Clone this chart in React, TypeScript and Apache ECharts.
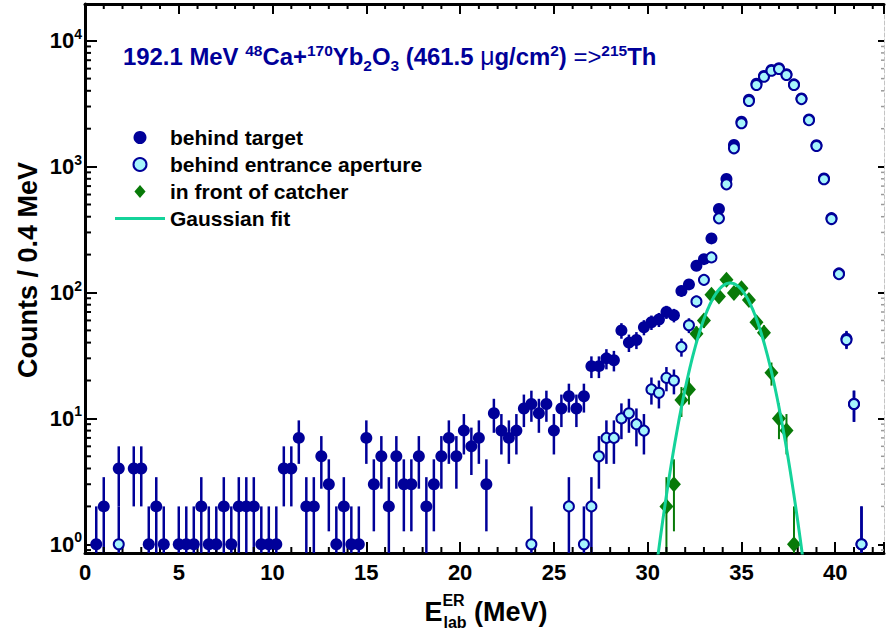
import React, { useEffect, useRef } from 'react';
import * as echarts from 'echarts';

// ---------------- data ----------------
// Bin centres in MeV (0.4 MeV bins) and counts per bin
const targetEnergy = [
  0.6, 1.0, 1.8, 2.6, 3.0, 3.4, 3.8, 4.2,
  5.0, 5.4, 5.8, 6.2, 6.6, 7.0, 7.4, 7.8, 8.2, 8.6, 9.0, 9.4, 9.8, 10.2,
  10.6, 11.0, 11.4, 11.8, 12.2, 12.6, 13.0, 13.4, 13.8, 14.2, 14.6,
  15.0, 15.4, 15.8, 16.2, 16.6, 17.0, 17.4, 17.8, 18.2, 18.6, 19.0, 19.4, 19.8,
  20.2, 20.6, 21.0, 21.4, 21.8, 22.2, 22.6, 23.0, 23.4, 23.8, 24.2, 24.6, 25.0, 25.4, 25.8, 26.2, 26.6,
  27.0, 27.4, 27.8, 28.2, 28.6, 29.0, 29.4, 29.8, 30.2, 30.6, 31.0, 31.4, 31.8, 32.2, 32.6, 33.0, 33.4,
  33.8, 34.2, 34.6, 35.0, 35.4, 35.8, 36.2, 36.6, 37.0, 37.4, 37.8, 38.2, 38.6, 39.0, 39.4, 39.8, 40.2,
  40.6, 41.0, 41.4,
];
const targetCounts = [
  1, 2, 4, 4, 4, 1, 2, 1,
  1, 1, 1, 2, 1, 1, 2, 1, 2, 2, 2, 1, 1, 1,
  4, 4, 7, 2, 2, 5, 3, 1, 2, 1, 1,
  7, 3, 5, 2, 5, 3, 3, 5, 2, 3, 5, 7, 5,
  8, 6, 7, 3, 11, 8, 7, 8, 12, 13, 11, 13, 8, 12, 15, 12, 15,
  26, 26, 30, 29, 50, 40, 42, 53, 58, 61, 70, 66, 103, 116, 163, 184, 269,
  460, 797, 1483, 2274, 3400, 4550, 5250, 5850, 6050, 5420, 4500, 3480, 2370, 1480, 805, 390, 142,
  43, 13, 1,
];

const apertureEnergy = [
  1.8, 23.8, 25.8, 26.6, 27.0, 27.4, 27.8, 28.2, 28.6, 29.0, 29.4, 29.8, 30.2, 30.6, 31.0, 31.4,
  31.8, 32.2, 32.6, 33.0, 33.4, 33.8, 34.2, 34.6, 35.0, 35.4, 35.8, 36.2, 36.6, 37.0, 37.4, 37.8,
  38.2, 38.6, 39.0, 39.4, 39.8, 40.2, 40.6, 41.0, 41.4,
];
const apertureCounts = [
  1, 1, 2, 1, 2, 5, 7, 7, 10, 11, 9, 8, 17, 16, 21, 20,
  37, 55, 85, 126, 190, 388, 723, 1397, 2208, 3319, 4446, 5176, 5775, 5960, 5343, 4446,
  3437, 2338, 1457, 793, 383, 140, 42, 13, 1,
];

const catcherEnergy = [
  31.0, 31.4, 31.8, 32.2, 32.6, 33.0, 33.4, 33.8, 34.2, 34.6, 35.0, 35.4, 35.8, 36.2, 36.6, 37.0, 37.4, 37.8,
];
const catcherCounts = [2, 3, 14, 17, 47, 60, 96, 93, 126, 99, 108, 87, 58, 48, 23, 10, 8, 1];

// Gaussian fit parameters (amplitude, mean, sigma)
const fitAmplitude = 119;
const fitMean = 34.4;
const fitSigma = 1.22;
const fitRange = [30.0, 38.8];

// axis ranges and tick labels
const X_MIN = 0;
const X_MAX = 42.6;
const Y_MIN = 0.853;
const Y_MAX = 19565;
const xTickLabels = [0, 5, 10, 15, 20, 25, 30, 35, 40];
const yTickLabels = [1, 10, 100, 1000, 10000];

// ---------------- styles ----------------
const FONT = '"Liberation Sans", Arial, Helvetica, sans-serif';
const NAVY = '#000099';
const CYAN = '#a6f5fc';
const GREEN = '#087a08';
const FIT = '#14d39a';

let measureCtx: CanvasRenderingContext2D | null = null;
function measure(text: string, size: number, weight: string) {
  if (!measureCtx) measureCtx = document.createElement('canvas').getContext('2d');
  if (!measureCtx) return text.length * size * 0.55;
  measureCtx.font = `${weight} ${size}px ${FONT}`;
  return measureCtx.measureText(text).width;
}

function textEl(t: string, x: number, baseline: number, size: number, weight: string, fill: string) {
  return {
    type: 'text',
    x,
    y: baseline - 0.3465 * size,
    silent: true,
    style: {
      text: t,
      fontSize: size,
      fontWeight: weight,
      fontFamily: FONT,
      fill,
      align: 'left',
      textAlign: 'left',
      verticalAlign: 'middle',
      textVerticalAlign: 'middle',
    },
  };
}

type Piece = { t: string; size: number; shift?: number; weight?: string; stack?: { t: string; size: number; shift: number } };

function piecesWidth(pieces: Piece[]) {
  let w = 0;
  for (const p of pieces) {
    let a = measure(p.t, p.size, p.weight || 'bold');
    if (p.stack) a = Math.max(a, measure(p.stack.t, p.stack.size, p.weight || 'bold'));
    w += a;
  }
  return w;
}

function layoutPieces(pieces: Piece[], x0: number, baseline: number, fill: string) {
  const els: any[] = [];
  let x = x0;
  for (const p of pieces) {
    const weight = p.weight || 'bold';
    let adv = measure(p.t, p.size, weight);
    els.push(textEl(p.t, x, baseline + (p.shift || 0), p.size, weight, fill));
    if (p.stack) {
      els.push(textEl(p.stack.t, x + 1, baseline + p.stack.shift, p.stack.size, weight, fill));
      adv = Math.max(adv, measure(p.stack.t, p.stack.size, weight) + 1);
    }
    x += adv;
  }
  return els;
}

function errorData(xs: number[], ys: number[]) {
  return xs.map((x, i) => {
    const e = Math.sqrt(ys[i]);
    return [x, Math.max(ys[i] - e, Y_MIN), Math.min(ys[i] + e, Y_MAX)];
  });
}

function errorSeries(xs: number[], ys: number[], color: string, width: number) {
  return {
    type: 'custom',
    silent: true,
    xAxisIndex: 0,
    yAxisIndex: 0,
    data: errorData(xs, ys),
    renderItem: (params: any, api: any) => {
      const x = api.value(0);
      const p1 = api.coord([x, api.value(1)]);
      const p2 = api.coord([x, api.value(2)]);
      return {
        type: 'line',
        shape: { x1: p1[0], y1: p1[1], x2: p2[0], y2: p2[1] },
        style: { stroke: color, lineWidth: width },
      };
    },
  };
}

function buildOption() {
  const xMinor: number[] = [];
  for (let v = 1; v <= 42; v++) if (v % 5 !== 0) xMinor.push(v);
  const yMinor: number[] = [0.9];
  for (let d = 1; d <= 1000; d *= 10) for (let m = 2; m <= 9; m++) yMinor.push(m * d);

  const fitData: number[][] = [];
  for (let x = fitRange[0]; x <= fitRange[1] + 1e-9; x += 0.05) {
    fitData.push([x, fitAmplitude * Math.exp(-((x - fitMean) ** 2) / (2 * fitSigma * fitSigma))]);
  }

  const M = 23.9;
  const S = 15.5;
  const titlePieces: Piece[] = [
    { t: '192.1 MeV ', size: M },
    { t: '48', size: S, shift: -9 },
    { t: 'Ca+', size: M },
    { t: '170', size: S, shift: -9 },
    { t: 'Yb', size: M },
    { t: '2', size: S, shift: 6 },
    { t: 'O', size: M },
    { t: '3', size: S, shift: 6 },
    { t: ' (461.5 ', size: M },
    { t: 'μ', size: M + 1, weight: 'normal' },
    { t: 'g/cm', size: M },
    { t: '2', size: S, shift: -9 },
    { t: ') ', size: M },
    { t: '=>', size: M, weight: 'normal' },
    { t: '215', size: S, shift: -9 },
    { t: 'Th', size: M },
  ];

  const xTitlePieces: Piece[] = [
    { t: 'E', size: 27 },
    { t: 'ER', size: 16, shift: -15, stack: { t: 'lab', size: 16, shift: 7 } },
    { t: ' (MeV)', size: 27 },
  ];
  const xTitleW = piecesWidth(xTitlePieces);

  const scatterBase = { type: 'scatter', xAxisIndex: 0, yAxisIndex: 0, silent: true };

  return {
    animation: false,
    backgroundColor: '#ffffff',
    textStyle: { fontFamily: FONT },
    grid: { left: 85, top: 4, right: 1, bottom: 83, containLabel: false },
    legend: {
      orient: 'vertical',
      left: 110,
      top: 122,
      padding: 5,
      itemWidth: 50,
      itemHeight: 13,
      itemGap: 6,
      selectedMode: false,
      symbolKeepAspect: true,
      data: [
        { name: 'behind target', icon: 'circle' },
        { name: 'behind entrance aperture', icon: 'circle' },
        { name: 'in front of catcher', icon: 'path://M6,0 L12,7 L6,14 L0,7 Z' },
        { name: 'Gaussian fit', icon: 'path://M0,0 L50,0 L50,3 L0,3 Z' },
      ],
      textStyle: { fontSize: 21, fontWeight: 'bold', color: '#000', fontFamily: FONT },
    },
    xAxis: [
      {
        type: 'value',
        position: 'bottom',
        min: X_MIN,
        max: X_MAX,
        interval: 5,
        axisLine: { show: true, onZero: false, lineStyle: { color: '#000', width: 3 } },
        axisTick: { show: true, inside: true, length: 11, lineStyle: { color: '#000', width: 2 } },
        axisLabel: {
          show: true,
          margin: 8,
          fontSize: 22,
          fontWeight: 'bold',
          color: '#000',
          fontFamily: FONT,
          formatter: (v: number) => (xTickLabels.indexOf(Math.round(v * 1000) / 1000) >= 0 ? String(v) : ''),
        },
        splitLine: { show: false },
      },
      {
        type: 'value',
        position: 'top',
        min: X_MIN,
        max: X_MAX,
        interval: 5,
        axisLine: { show: true, onZero: false, lineStyle: { color: '#000', width: 3 } },
        axisTick: { show: true, inside: true, length: 10, lineStyle: { color: '#000', width: 2 } },
        axisLabel: { show: false },
        splitLine: { show: false },
      },
    ],
    yAxis: [
      {
        type: 'log',
        logBase: 10,
        position: 'left',
        min: Y_MIN,
        max: Y_MAX,
        axisLine: { show: true, onZero: false, lineStyle: { color: '#000', width: 3 } },
        axisTick: { show: true, inside: true, length: 12, lineStyle: { color: '#000', width: 2 } },
        axisLabel: {
          show: true,
          margin: 3,
          formatter: (v: number) => {
            const e = Math.round(Math.log10(v));
            const p = Math.pow(10, e);
            if (Math.abs(v - p) / p > 1e-6 || yTickLabels.indexOf(p) < 0) return '';
            return `{b|10}{s|${e}}`;
          },
          rich: {
            b: { fontSize: 22, fontWeight: 'bold', fontFamily: FONT, color: '#000', lineHeight: 28 },
            s: { fontSize: 14, fontWeight: 'bold', fontFamily: FONT, color: '#000', lineHeight: 12, verticalAlign: 'top' },
          },
        },
        splitLine: { show: false },
      },
      {
        type: 'log',
        logBase: 10,
        position: 'right',
        min: Y_MIN,
        max: Y_MAX,
        axisLine: { show: true, onZero: false, lineStyle: { color: '#c4c4c4', width: 1, type: 'dashed' } },
        axisTick: { show: true, inside: true, length: 6, lineStyle: { color: '#000', width: 2 } },
        axisLabel: { show: false },
        splitLine: { show: false },
      },
    ],
    graphic: [
      ...layoutPieces(titlePieces, 123, 64.5, NAVY),
      ...layoutPieces(xTitlePieces, 485.5 - xTitleW / 2, 621, '#000'),
      {
        type: 'text',
        x: 28,
        y: 270,
        rotation: Math.PI / 2,
        silent: true,
        style: {
          text: 'Counts / 0.4 MeV',
          fontSize: 27,
          fontWeight: 'bold',
          fontFamily: FONT,
          fill: '#000',
          align: 'center',
          textAlign: 'center',
          verticalAlign: 'middle',
          textVerticalAlign: 'middle',
        },
      },
    ],
    series: [
      errorSeries(targetEnergy, targetCounts, NAVY, 2.5),
      {
        ...scatterBase,
        name: 'behind target',
        symbol: 'circle',
        symbolSize: 12,
        itemStyle: { color: NAVY, opacity: 1 },
        data: targetEnergy.map((x, i) => [x, targetCounts[i]]),
      },
      errorSeries(apertureEnergy, apertureCounts, NAVY, 2.5),
      {
        ...scatterBase,
        name: 'behind entrance aperture',
        symbol: 'circle',
        symbolSize: 10,
        itemStyle: { color: CYAN, borderColor: NAVY, borderWidth: 2, opacity: 1 },
        data: apertureEnergy.map((x, i) => [x, apertureCounts[i]]),
      },
      errorSeries(catcherEnergy, catcherCounts, GREEN, 2),
      {
        ...scatterBase,
        name: 'in front of catcher',
        symbol: 'diamond',
        symbolSize: [14, 16],
        itemStyle: { color: GREEN, opacity: 1 },
        data: catcherEnergy.map((x, i) => [x, catcherCounts[i]]),
      },
      {
        type: 'line',
        name: 'Gaussian fit',
        xAxisIndex: 0,
        yAxisIndex: 0,
        silent: true,
        showSymbol: false,
        symbol: 'none',
        smooth: false,
        clip: true,
        lineStyle: { color: FIT, width: 3 },
        itemStyle: { color: FIT },
        data: fitData,
      },
      {
        type: 'custom',
        silent: true,
        xAxisIndex: 0,
        yAxisIndex: 0,
        data: xMinor.map((v) => [v, 1]),
        renderItem: (params: any, api: any) => {
          const cs = params.coordSys;
          const x = api.coord([api.value(0), 1])[0];
          const bottom = cs.y + cs.height;
          return {
            type: 'group',
            children: [
              { type: 'line', shape: { x1: x, y1: bottom, x2: x, y2: bottom - 6 }, style: { stroke: '#000', lineWidth: 2 } },
              { type: 'line', shape: { x1: x, y1: cs.y, x2: x, y2: cs.y + 5 }, style: { stroke: '#000', lineWidth: 2 } },
            ],
          };
        },
      },
      {
        type: 'custom',
        silent: true,
        xAxisIndex: 0,
        yAxisIndex: 0,
        data: yMinor.map((v) => [1, v]),
        renderItem: (params: any, api: any) => {
          const cs = params.coordSys;
          const y = api.coord([1, api.value(1)])[1];
          const right = cs.x + cs.width;
          return {
            type: 'group',
            children: [
              { type: 'line', shape: { x1: cs.x, y1: y, x2: cs.x + 6, y2: y }, style: { stroke: '#000', lineWidth: 2 } },
              { type: 'line', shape: { x1: right - 3, y1: y, x2: right, y2: y }, style: { stroke: '#9a9a9a', lineWidth: 1.5 } },
            ],
          };
        },
      },
    ],
  };
}

export default function App() {
  const ref = useRef<HTMLDivElement>(null);
  useEffect(() => {
    if (!ref.current) return;
    const chart = echarts.init(ref.current, null, { renderer: 'svg' });
    chart.setOption(buildOption() as any);
    return () => {
      chart.dispose();
    };
  }, []);
  return (
    <div
      ref={ref}
      style={{ position: 'absolute', left: 0, top: 0, width: 887, height: 636, background: '#fff' }}
    />
  );
}
